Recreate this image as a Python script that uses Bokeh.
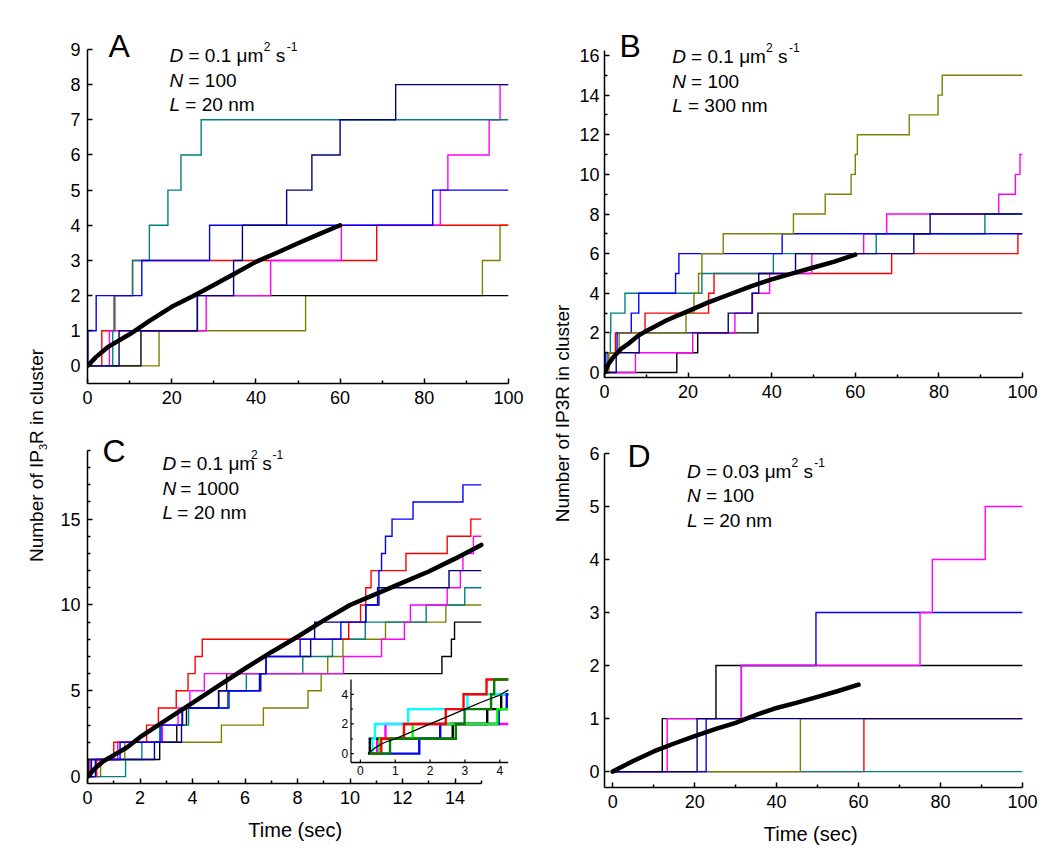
import math
from bokeh.plotting import figure
from bokeh.layouts import row, column
from bokeh.models import FixedTicker, Range1d, Label
from bokeh.embed import file_html
from bokeh.resources import INLINE
from bokeh.core.properties import value

FONT = "Liberation Sans"

# ---------------- data: times (sec) at which each trace steps up by one ----------------
# Panel A  (D = 0.1, N = 100, L = 20 nm)
A_black = [12.7, 26.1]
A_olive = [17.0, 51.8, 93.8, 98.0]
A_red = [3.4, 6.5, 10.7, 68.7]
A_magenta = [5.2, 28.2, 43.5, 60.3, 83.8, 85.6, 95.4, 98.0]
A_teal = [6.0, 6.3, 10.7, 14.7, 19.1, 22.2, 27.0]
A_blue = [0.1, 2.06, 12.9, 29.0, 82.0]
A_navy = [7.5, 26.1, 34.7, 36.8, 47.3, 53.3, 60.0, 73.2]
A_mean_t = [0, 2, 5, 10, 15, 20, 25, 30, 35, 40, 45, 50, 55, 60]
A_mean_y = [0, 0.25, 0.55, 0.9, 1.3, 1.68, 1.98, 2.3, 2.63, 2.96, 3.22, 3.49, 3.75, 4.0]
A_params = ["0.1", "100", "20"]

# Panel B  (D = 0.1, N = 100, L = 300 nm)
B_black = [17.3, 22.3, 36.7]
B_red = [1.0, 2.6, 9.7, 24.9, 26.2, 68.7, 98.9]
B_magenta = [7.4, 21.1, 31.2, 35.4, 39.5, 49.6, 62.0, 67.5, 94.3, 98.3, 99.4]
B_teal = [0.8, 1.4, 1.5, 4.9, 23.3, 40.4, 65.0, 91.0]
B_blue = [0.3, 3.0, 6.4, 8.2, 17.0, 17.8, 42.5]
B_navy = [2.8, 8.3, 29.6, 35.3, 36.9, 45.7, 74.0, 77.9]
B_olive = [1.0, 3.5, 19.5, 21.4, 22.5, 23.3, 28.4, 45.2, 52.8, 59.0, 60.0, 60.5, 72.9, 79.8, 80.8]
B_mean_t = [0, 1, 2, 4, 6, 8, 10, 15, 20, 25, 30, 35, 40, 45, 50, 55, 60]
B_mean_y = [0, 0.45, 0.75, 1.2, 1.5, 1.85, 2.1, 2.65, 3.1, 3.55, 3.95, 4.35, 4.7, 5.0, 5.3, 5.6, 5.95]
B_params = ["0.1", "100", "300"]

# Panel C  (D = 0.1, N = 1000, L = 20 nm)
C_black = [0.05, 2.75, 3.4, 3.77, 4.99, 5.3, 13.5, 13.86, 13.98]
C_olive = [0.5, 1.42, 5.1, 6.7, 8.4, 8.9, 9.15, 9.73, 11.35, 13.65]
C_teal = [1.45, 2.07, 2.75, 3.85, 5.4, 6.05, 8.2, 9.33, 10.58, 12.9, 14.37]
C_magenta = [0.1, 1.15, 2.85, 3.45, 3.9, 4.45, 9.75, 11.2, 12.07, 12.3, 13.7, 14.2, 14.3, 14.7]
C_navy = [0.15, 2.55, 3.58, 3.62, 5.0, 6.6, 6.8, 8.5, 8.65, 10.6, 11.1, 13.77]
C_red = [0.35, 1.0, 2.25, 2.7, 3.38, 3.83, 4.1, 4.37, 9.95, 10.4, 10.6, 10.8, 12.13, 13.7, 14.6]
C_blue = [0.3, 1.24, 2.8, 3.6, 5.35, 6.55, 6.8, 8.1, 9.65, 10.6, 11.05, 11.1, 11.2, 11.35, 11.6, 12.4, 14.3]
C_mean_t = [0, 0.3, 0.6, 1, 1.5, 2, 3, 4, 5, 6, 7, 8, 9, 10, 11, 12, 13, 14, 15]
C_mean_y = [0, 0.5, 0.9, 1.25, 1.7, 2.3, 3.3, 4.3, 5.3, 6.3, 7.25, 8.15, 9.1, 10.0, 10.65, 11.3, 11.95, 12.7, 13.5]
C_params = ["0.1", "1000", "20"]

# Inset of panel C (first seconds)
I_start, I_end = 0.22, 4.25
I_black = [0.27, 2.65, 3.64, 4.04]
I_magenta = [0.48, 0.72]
I_cyan = [0.35, 0.42, 1.37, 3.07]
I_blue = [1.69, 2.29, 3.97, 4.2]
I_green = [0.55, 1.5, 3.93]
I_red = [0.6, 1.25, 2.45, 2.96, 3.62]
I_dkgreen = [0.85, 2.74, 2.99, 3.75, 3.84]
I_mean_t = [0.22, 0.4, 0.6, 0.8, 1.0, 1.3, 1.6, 2.0, 2.5, 3.0, 3.5, 4.0, 4.25]
I_mean_y = [0, 0.35, 0.65, 0.85, 1.0, 1.3, 1.6, 2.0, 2.5, 3.0, 3.5, 3.95, 4.3]

# Panel D  (D = 0.03, N = 100, L = 20 nm)
D_red = [61.3]
D_teal = []
D_olive = [45.8]
D_blue = [22.8, 31.4, 49.6]
D_black = [12.1, 25.2]
D_magenta = [13.3, 31.4, 75.0, 78.0, 90.9]
D_navy = [20.6]
D_mean_t = [0, 5, 10, 15, 20, 25, 30, 35, 40, 45, 50, 55, 60]
D_mean_y = [0, 0.2, 0.38, 0.53, 0.67, 0.8, 0.92, 1.07, 1.2, 1.3, 1.41, 1.52, 1.64]
D_params = ["0.03", "100", "20"]

# ticks
AD_xticks = [0, 20, 40, 60, 80, 100]
AD_xminor = [10, 30, 50, 70, 90]
A_yticks = list(range(0, 10))
B_yticks = list(range(0, 17, 2))
B_yminor = list(range(1, 17, 2))
C_xticks = list(range(0, 15, 2))
C_xminor = list(range(1, 16, 2))
C_yticks = [0, 5, 10, 15]
C_yminor = [v for v in range(1, 20) if v % 5]
D_yticks = list(range(0, 7))
I_xticks = [0, 1, 2, 3, 4]
I_yticks = [0, 2, 4]
I_yminor = [1, 3]

YLABEL_L = ["Number of IP", "3", "R in cluster"]
YLABEL_R = "Number of IP3R in cluster"
XLABEL = "Time  (sec)"

COL = {"black": "#000000", "red": "#ff0000", "magenta": "#ff00ff", "teal": "#008080",
       "blue": "#0000ff", "navy": "#000080", "olive": "#808000", "cyan": "#00ffff",
       "green": "#00ff00", "dkgreen": "#008000"}

AW = {' ': 278, '=': 584, '.': 278, '-': 333, '(': 333, ')': 333, 'μ': 576,
      'A': 667, 'B': 667, 'C': 722, 'D': 722, 'I': 278, 'L': 556, 'N': 722, 'P': 667, 'R': 722,
      'b': 556, 'c': 500, 'e': 556, 'f': 278, 'i': 222, 'l': 222, 'm': 833, 'n': 556,
      'o': 556, 'r': 333, 's': 500, 't': 278, 'u': 556}


def tw(s, size):
    return sum(AW.get(ch, 556) for ch in s) / 1000.0 * size


class Panel:
    """Figure whose axes occupy a given page-pixel box; the frame is extended to the
    canvas top (and optionally further right) so annotations stay inside it."""

    def __init__(self, canvas, axbox, xr, yr, frame_right=None):
        cl, ct, cr, cb = canvas
        al, at, ar, ab = axbox
        fl, ft, fr, fb = al, ct, (frame_right or ar), ab
        ux = (xr[1] - xr[0]) / (ar - al)
        uy = (yr[1] - yr[0]) / (ab - at)
        fx = (xr[0] - (al - fl) * ux, xr[1] + (fr - ar) * ux)
        fy = (yr[0] - (fb - ab) * uy, yr[1] + (at - ft) * uy)
        self.frame, self.fx, self.fy = (fl, ft, fr, fb), fx, fy
        p = figure(width=cr - cl, height=cb - ct, x_range=Range1d(*fx), y_range=Range1d(*fy),
                   output_backend="svg", toolbar_location=None, title=None,
                   min_border_left=fl - cl, min_border_right=cr - fr,
                   min_border_top=ft - ct, min_border_bottom=cb - fb)
        p.background_fill_alpha = 0
        p.border_fill_color = "white"
        p.outline_line_color = None
        p.xgrid.visible = False
        p.ygrid.visible = False
        p.xaxis[0].bounds = tuple(xr)
        p.yaxis[0].bounds = tuple(yr)
        self.p = p

    def data(self, px, py):
        fl, ft, fr, fb = self.frame
        x0, x1 = self.fx
        y0, y1 = self.fy
        return (x0 + (px - fl) / (fr - fl) * (x1 - x0), y1 - (py - ft) / (fb - ft) * (y1 - y0))

    def put(self, px, py, s, size, style="normal"):
        x, y = self.data(px, py)
        self.p.add_layout(Label(x=x, y=y, text=s, text_font=FONT,
                                text_font_size=f"{size}px", text_font_style=style,
                                text_align="left", text_baseline="alphabetic", text_color="black"))

    def annotation(self, x0, b1, params, fs=19, ss=12, gap=24.5):
        dval, nval, lval = params
        sp = tw(" ", fs)
        # line 1: D = ... um^2 s^-1
        self.put(x0, b1, "D", fs, "italic")
        rest = f"= {dval} μm"
        x = x0 + tw("D", fs) + sp
        self.put(x, b1, rest, fs)
        x += tw(rest, fs) + 0.5
        self.put(x, b1 - 9, "2", ss)
        x += tw("2", ss) + sp
        self.put(x, b1, "s", fs)
        x += tw("s", fs) + 1.5
        self.put(x, b1 - 9, "-1", ss)
        # line 2 and 3
        self.put(x0, b1 + gap, "N", fs, "italic")
        self.put(x0 + tw("N", fs) + sp, b1 + gap, f"= {nval}", fs)
        self.put(x0, b1 + 2 * gap, "L", fs, "italic")
        self.put(x0 + tw("L", fs) + sp, b1 + 2 * gap, f"= {lval} nm", fs)


def style_axis(ax, ticks, minor=(), size=18, standoff=7, lw=1.5, tin=5, mtin=3):
    ax.ticker = FixedTicker(ticks=list(ticks), minor_ticks=list(minor))
    ax.axis_line_width = lw
    ax.axis_line_color = "black"
    ax.major_tick_in = tin
    ax.major_tick_out = 0
    ax.minor_tick_in = mtin
    ax.minor_tick_out = 0
    ax.major_tick_line_width = lw
    ax.minor_tick_line_width = lw
    ax.major_tick_line_color = "black"
    ax.minor_tick_line_color = "black"
    ax.major_label_text_font = FONT
    ax.major_label_text_font_size = f"{size}px"
    ax.major_label_text_color = "black"
    ax.major_label_standoff = standoff


def xlabel(p):
    ax = p.xaxis[0]
    ax.axis_label = XLABEL
    ax.axis_label_text_font = FONT
    ax.axis_label_text_font_size = "20px"
    ax.axis_label_text_font_style = "normal"
    ax.axis_label_text_color = "black"
    ax.axis_label_standoff = 12


def steps(p, jumps, color, t0, t1, lw=1.4, **kw):
    xs = [t0] + list(jumps) + [t1]
    ys = list(range(len(jumps) + 1)) + [len(jumps)]
    p.step(xs, ys, mode="after", line_color=COL[color], line_width=lw, line_join="miter", **kw)


# canvases (page pixels)
STRIP_L = (0, 50)
LEFT_COL = (50, 540)
STRIP_R = (540, 576)
RIGHT_COL = (576, 1050)
ROW1 = (0, 425)
ROW2 = (425, 861)

# ---------------- Panel A ----------------
A = Panel((LEFT_COL[0], ROW1[0], LEFT_COL[1], ROW1[1]), (87, 49, 508, 383), (0, 100), (-0.5, 9))
pA = A.p
style_axis(pA.xaxis[0], AD_xticks, AD_xminor)
style_axis(pA.yaxis[0], A_yticks, [])
for arr, c in [(A_olive, "olive"), (A_black, "black"), (A_red, "red"), (A_magenta, "magenta"),
               (A_teal, "teal"), (A_blue, "blue"), (A_navy, "navy")]:
    steps(pA, arr, c, 0, 100)
pA.line(A_mean_t, A_mean_y, line_color="black", line_width=4.5, line_cap="round")
A.put(108, 45, "A", 32)
A.annotation(169, 55, A_params)

# ---------------- Panel B ----------------
B = Panel((RIGHT_COL[0], ROW1[0], RIGHT_COL[1], ROW1[1]), (602, 50, 1022, 377), (0, 100), (-0.25, 16.25))
pB = B.p
style_axis(pB.xaxis[0], AD_xticks, AD_xminor)
style_axis(pB.yaxis[0], B_yticks, B_yminor, standoff=5)
for arr, c in [(B_black, "black"), (B_red, "red"), (B_magenta, "magenta"), (B_teal, "teal"),
               (B_blue, "blue"), (B_navy, "navy"), (B_olive, "olive")]:
    steps(pB, arr, c, 0, 100)
pB.line(B_mean_t, B_mean_y, line_color="black", line_width=4.5, line_cap="round")
B.put(617, 45, "B", 32)
B.annotation(670, 56, B_params)

# ---------------- Panel C (frame widened to the right to hold the inset) ----------------
C = Panel((LEFT_COL[0], ROW2[0], LEFT_COL[1], ROW2[1]), (87, 450, 507, 783), (0, 15), (-0.4, 19),
          frame_right=536)
pC = C.p
style_axis(pC.xaxis[0], C_xticks, C_xminor)
style_axis(pC.yaxis[0], C_yticks, C_yminor)
xlabel(pC)
for arr, c in [(C_black, "black"), (C_olive, "olive"), (C_teal, "teal"), (C_magenta, "magenta"),
               (C_navy, "navy"), (C_red, "red"), (C_blue, "blue")]:
    steps(pC, arr, c, 0, 15)
pC.line(C_mean_t, C_mean_y, line_color="black", line_width=4.5, line_cap="round")
C.put(103, 450, "C", 32)
C.annotation(167, 463, C_params)

# ---------------- Inset (own ranges mapped onto a box inside panel C) ----------------
I_xr = (-0.27, 4.25)
I_yr = (-0.6, 5.0)
I_box = (368, 679, 536, 762)  # page px: left, top, right, bottom
Cf = C.frame
ux = (I_xr[1] - I_xr[0]) / (I_box[2] - I_box[0])
uy = (I_yr[1] - I_yr[0]) / (I_box[3] - I_box[1])
pC.extra_x_ranges = {"ix": Range1d(I_xr[0] - (I_box[0] - Cf[0]) * ux,
                                   I_xr[1] + (Cf[2] - I_box[2]) * ux)}
pC.extra_y_ranges = {"iy": Range1d(I_yr[0] - (Cf[3] - I_box[3]) * uy,
                                   I_yr[1] + (I_box[1] - Cf[1]) * uy)}
IK = dict(x_range_name="ix", y_range_name="iy")
pC.quad(left=[I_xr[0]], right=[I_xr[1]], bottom=[I_yr[0]], top=[I_yr[1]],
        fill_color="white", line_color=None, **IK)
for arr, c in [(I_magenta, "magenta"), (I_black, "black"), (I_cyan, "cyan"), (I_blue, "blue"),
               (I_green, "green"), (I_red, "red"), (I_dkgreen, "dkgreen")]:
    steps(pC, arr, c, I_start, I_end, lw=2.4, **IK)
pC.line(I_mean_t, I_mean_y, line_color="black", line_width=1.3, **IK)
# inset axes
pC.segment(x0=[I_xr[0], I_xr[0]], y0=[I_yr[0], I_yr[0]], x1=[I_xr[0], I_xr[1]], y1=[I_yr[1], I_yr[0]],
           line_color="black", line_width=1.3, **IK)
pC.segment(x0=I_xticks, y0=[I_yr[0]] * len(I_xticks), x1=I_xticks,
           y1=[I_yr[0] + 3 * uy] * len(I_xticks), line_color="black", line_width=1.2, **IK)
pC.segment(x0=[I_xr[0]] * len(I_yticks), y0=I_yticks, x1=[I_xr[0] + 3 * ux] * len(I_yticks),
           y1=I_yticks, line_color="black", line_width=1.2, **IK)
pC.segment(x0=[I_xr[0]] * len(I_yminor), y0=I_yminor, x1=[I_xr[0] + 2 * ux] * len(I_yminor),
           y1=I_yminor, line_color="black", line_width=1.2, **IK)
pC.text(x=I_xticks, y=[I_yr[0] - 3 * uy] * len(I_xticks), text=[str(v) for v in I_xticks],
        text_font=value(FONT), text_font_size=value("12px"), text_align="center",
        text_baseline="top", text_color="black", **IK)
pC.text(x=[I_xr[0] - 3 * ux] * len(I_yticks), y=I_yticks, text=[str(v) for v in I_yticks],
        text_font=value(FONT), text_font_size=value("12px"), text_align="right",
        text_baseline="middle", text_color="black", **IK)

# ---------------- Panel D ----------------
D = Panel((RIGHT_COL[0], ROW2[0], RIGHT_COL[1], ROW2[1]), (602, 453, 1022, 787), (-2, 100), (-0.3, 6))
pD = D.p
style_axis(pD.xaxis[0], AD_xticks, AD_xminor)
style_axis(pD.yaxis[0], D_yticks, [], standoff=5)
xlabel(pD)
for arr, c in [(D_red, "red"), (D_teal, "teal"), (D_olive, "olive"), (D_blue, "blue"),
               (D_black, "black"), (D_magenta, "magenta"), (D_navy, "navy")]:
    steps(pD, arr, c, 0, 100)
pD.line(D_mean_t, D_mean_y, line_color="black", line_width=4.5, line_cap="round")
D.put(625, 455, "D", 32)
D.annotation(685, 470.5, D_params)


# ---------------- narrow figures carrying the shared y labels ----------------
def label_strip(x0, x1, h=ROW2[1]):
    f = figure(width=x1 - x0, height=h, x_range=Range1d(x0, x1), y_range=Range1d(0, h),
               output_backend="svg", toolbar_location=None, title=None,
               x_axis_location=None, y_axis_location=None,
               min_border_left=0, min_border_right=0, min_border_top=0, min_border_bottom=0)
    f.background_fill_color = "white"
    f.border_fill_color = "white"
    f.outline_line_color = None
    f.xgrid.visible = False
    f.ygrid.visible = False
    return f


def strip_text(f, px, py, s, size):
    f.text(x=[px], y=[ROW2[1] - py], text=[s], angle=math.pi / 2, text_font=value(FONT),
           text_font_size=value(f"{size}px"), text_align="left", text_baseline="alphabetic",
           text_color="black")


L = label_strip(*STRIP_L)
fs, ss = 19, 11
w1, w2, w3 = tw(YLABEL_L[0], fs), tw(YLABEL_L[1], ss), tw(YLABEL_L[2], fs)
y0 = 455 + (w1 + w2 + w3) / 2
strip_text(L, 36, y0, YLABEL_L[0], fs)
strip_text(L, 42, y0 - w1, YLABEL_L[1], ss)
strip_text(L, 36, y0 - w1 - w2, YLABEL_L[2], fs)

R = label_strip(*STRIP_R)
strip_text(R, 562, 413 + tw(YLABEL_R, 19) / 2, YLABEL_R, 19)

layout = row(L, column(pA, pC), R, column(pB, pD))

open("out.html", "w").write(file_html(layout, INLINE, "IP3R clusters"))
